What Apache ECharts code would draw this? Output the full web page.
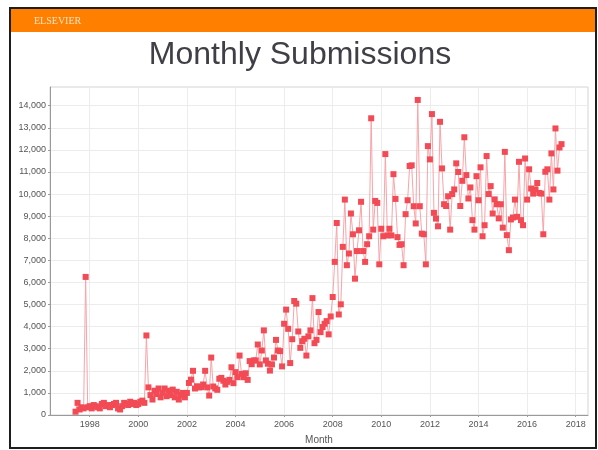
<!DOCTYPE html>
<html>
<head>
<meta charset="utf-8">
<script src="https://cdn.jsdelivr.net/npm/echarts@6/dist/echarts.min.js"></script>
<style>
html,body{margin:0;padding:0;background:#fff;}
#chart{width:598px;height:450px;}
</style>
</head>
<body>
<div id="chart"></div>
<script>
// Monthly submissions, starting June 1997
const startYear = 1997, startMonth = 6;
const y1997 = [150, 550, 250, 350, 300, 6250, 350];
const y1998 = [400, 300, 450, 400, 350, 300, 500, 550, 400, 450, 350, 450];
const y1999 = [500, 550, 300, 250, 400, 550, 500, 450, 600, 500, 550, 450];
const y2000 = [500, 600, 650, 550, 3600, 1250, 900, 700, 1100, 950, 1200, 800];
const y2001 = [1000, 1200, 850, 1100, 900, 1150, 800, 1050, 700, 900, 1000, 800];
const y2002 = [1000, 1450, 1600, 2000, 1200, 1300, 1250, 1260, 1380, 2000, 1250, 880];
const y2003 = [2600, 1290, 1200, 1140, 1640, 1680, 1550, 1380, 1500, 1590, 2160, 1440];
const y2004 = [1940, 1710, 2690, 1860, 1710, 1890, 1590, 2440, 2300, 2470, 2470, 3190];
const y2005 = [2290, 2920, 3830, 2470, 2320, 2010, 2290, 2600, 3400, 2920, 2890, 2200];
const y2006 = [4130, 4770, 3900, 2350, 3430, 5160, 5040, 3780, 3040, 3340, 3450, 2690];
const y2007 = [3560, 3830, 5290, 3250, 3400, 4660, 3750, 3980, 4130, 4250, 3650, 4460];
const y2008 = [5340, 6930, 8690, 4550, 5010, 7610, 9750, 6780, 7310, 9120, 8180, 6170];
const y2009 = [7420, 8360, 9650, 7420, 6930, 7730, 8090, 13430, 8390, 9690, 9600, 6820];
const y2010 = [8430, 8090, 11810, 8130, 8430, 8130, 10900, 9780, 8050, 7700, 7730, 6780];
const y2011 = [9090, 9720, 11270, 11300, 9450, 8670, 14260, 9450, 8210, 8180, 6820, 12170];
const y2012 = [11570, 13620, 9150, 8890, 8540, 13270, 11160, 9540, 9460, 9900, 8390, 10000];
const y2013 = [10210, 11390, 11000, 9460, 10600, 12570, 10860, 9800, 10300, 8820, 8390, 10810];
const y2014 = [9720, 11210, 8090, 8590, 11720, 10000, 10360, 9120, 9760, 9540, 8900, 9540];
const y2015 = [8480, 11910, 8140, 7460, 8850, 8940, 9750, 8970, 11460, 8820, 8590, 11610];
const y2016 = [9750, 11120, 10250, 10020, 10210, 10500, 10050, 10020, 8180, 11010, 11120, 9750];
const y2017 = [11840, 10210, 12970, 11060, 12110, 12260];
const yearTicks = [1998, 2000, 2002, 2004, 2006, 2008, 2010, 2012, 2014, 2016, 2018];
const yTicks = [0,1000,2000,3000,4000,5000,6000,7000,8000,9000,10000,11000,12000,13000,14000];

const values = [].concat(y1997,y1998,y1999,y2000,y2001,y2002,y2003,y2004,y2005,y2006,
  y2007,y2008,y2009,y2010,y2011,y2012,y2013,y2014,y2015,y2016,y2017);
const data = values.map(function(v, i){
  const mi = startMonth - 1 + i;
  const yr = startYear + Math.floor(mi / 12);
  const mo = mi % 12;
  return [yr + mo / 12, v];
});

const chart = echarts.init(document.getElementById('chart'), null, {renderer:'canvas'});
chart.setOption({
  animation: false,
  backgroundColor: '#fff',
  graphic: [
    {type:'rect', shape:{x:10, y:8, width:586, height:440}, style:{fill:'#fff', stroke:'#1e1e1e', lineWidth:2}, z:-10, silent:true},
    {type:'rect', shape:{x:11, y:9, width:584, height:23}, style:{fill:'#ff8000'}, z:-9, silent:true},
    {type:'text', x:34, y:21, style:{text:'ELSEVIER', fill:'#ffe3c4', font:'10px "Liberation Serif", serif', textVerticalAlign:'middle'}, silent:true},
    {type:'text', x:300, y:55, style:{text:'Monthly Submissions', fill:'#3f3f45', font:'32px "Liberation Sans", Arial, sans-serif', textAlign:'center', textVerticalAlign:'middle'}, silent:true}
  ],
  grid: {left:50, right:10, top:87, bottom:35, show:true, borderColor:'#d4d4d4', borderWidth:1, backgroundColor:'#fff'},
  xAxis: {
    type:'value', min:1996.366, max:2018.506,
    name:'Month', nameLocation:'middle', nameGap:20,
    nameTextStyle:{fontSize:10, color:'#555', fontFamily:'"Liberation Sans", Arial, sans-serif'},
    axisLine:{show:true, lineStyle:{color:'#9a9a9a'}},
    axisTick:{show:true, length:2, lineStyle:{color:'#9a9a9a'}, customValues: yearTicks},
    axisLabel:{customValues: yearTicks, fontSize:9, color:'#555', margin:5, fontFamily:'"Liberation Sans", Arial, sans-serif', formatter: function(v){return String(Math.round(v));}},
    splitLine:{show:true, lineStyle:{color:'#ececec'}}
  },
  yAxis: {
    type:'value', min:0, max:14846,
    axisLine:{show:true, lineStyle:{color:'#9a9a9a'}},
    axisTick:{show:true, length:2, lineStyle:{color:'#9a9a9a'}, customValues: yTicks},
    axisLabel:{customValues: yTicks, fontSize:9, color:'#555', margin:4, fontFamily:'"Liberation Sans", Arial, sans-serif',
      formatter: function(v){return v.toLocaleString('en-US');}},
    splitLine:{show:true, lineStyle:{color:'#ececec'}}
  },
  series: [{
    type:'line', data:data, symbol:'rect', symbolSize:6, showAllSymbol:true,
    lineStyle:{color:'#f8a4a8', width:1},
    itemStyle:{color:'#f24b55'}
  }]
});
</script>
</body>
</html>
